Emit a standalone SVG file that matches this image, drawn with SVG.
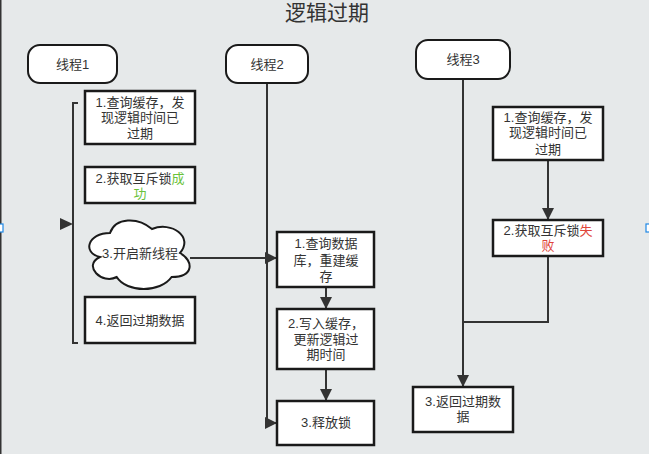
<svg xmlns="http://www.w3.org/2000/svg" width="649" height="454" viewBox="0 0 649 454">
<defs>
<style>
text{font-family:"Liberation Sans","Noto Sans CJK SC",sans-serif;font-size:13px;fill:#333;text-anchor:middle}
.box{fill:#fff;stroke:#1a1a1a;stroke-width:2.5}
.term{fill:#fff;stroke:#1a1a1a;stroke-width:2}
.ln{fill:none;stroke:#333;stroke-width:2}
.g{fill:#6ac23a}
.r{fill:#e0453a}
</style>
<marker id="ahb" viewBox="0 0 10 10" refX="10" refY="5" markerWidth="12" markerHeight="12" markerUnits="userSpaceOnUse" orient="auto">
<path d="M0,0 L10,5 L0,10 z" fill="#333"/>
</marker>
</defs>
<rect x="0" y="0" width="649" height="454" fill="#e6e9ea"/>
<line x1="0.75" y1="0" x2="0.75" y2="454" stroke="#333" stroke-width="1.5"/>
<rect x="-2" y="224" width="5" height="8" fill="#fff" stroke="#1e88e5" stroke-width="1.2"/>
<rect x="646" y="224" width="5" height="8" fill="#fff" stroke="#1e88e5" stroke-width="1.2"/>
<text x="327" y="20" style="font-size:21px">逻辑过期</text>

<g id="connectors">
<path class="ln" d="M78,103 H73 V343 H78"/>
<path d="M60,218 L73,224 L60,230 z" fill="#333"/>
<path class="ln" d="M267,83 V423 H277" marker-end="url(#ahb)"/>
<path class="ln" d="M190,258 H277" marker-end="url(#ahb)"/>
<path class="ln" d="M326,287 V309" marker-end="url(#ahb)"/>
<path class="ln" d="M326,369 V401" marker-end="url(#ahb)"/>
<path class="ln" d="M463,79 V387" marker-end="url(#ahb)"/>
<path class="ln" d="M548,160 V220" marker-end="url(#ahb)"/>
<path class="ln" d="M548,256 V322 H463"/>
</g>

<g id="thread1">
<rect class="term" x="28" y="45" width="89" height="38" rx="12"/>
<text x="72.5" y="69">线程1</text>
</g>
<g id="thread2">
<rect class="term" x="226" y="45" width="82" height="38" rx="12"/>
<text x="267" y="69">线程2</text>
</g>
<g id="thread3">
<rect class="term" x="416" y="40" width="94" height="39" rx="12"/>
<text x="463" y="64">线程3</text>
</g>

<g id="t1-step1">
<rect class="box" x="85" y="91" width="110" height="53"/>
<text x="140" y="107">1.查询缓存，发</text>
<text x="140" y="122">现逻辑时间已</text>
<text x="140" y="138">过期</text>
</g>
<g id="t1-step2">
<rect class="box" x="85" y="167" width="110" height="36"/>
<text x="140" y="183">2.获取互斥锁<tspan class="g">成</tspan></text>
<text x="140" y="198" class="g">功</text>
</g>
<g id="t1-step3">
<path class="term" d="M110,233 C87.6,233 82,253 99.9,257 C82,265.8 102.2,285 116.7,277 C126.8,293 160.4,293 171.6,277 C194,277 194,261 180,253 C194,237 171.6,221 152,229 C138,217 115.6,217 110,233 Z"/>
<text x="140" y="258">3.开启新线程</text>
</g>
<g id="t1-step4">
<rect class="box" x="85" y="297" width="110" height="46"/>
<text x="140" y="325">4.返回过期数据</text>
</g>

<g id="t2-step1">
<rect class="box" x="277" y="232" width="97" height="55"/>
<text x="326" y="248">1.查询数据</text>
<text x="326" y="265">库，重建缓</text>
<text x="326" y="281">存</text>
</g>
<g id="t2-step2">
<rect class="box" x="277" y="309" width="97" height="60"/>
<text x="326" y="328">2.写入缓存，</text>
<text x="326" y="344">更新逻辑过</text>
<text x="326" y="359">期时间</text>
</g>
<g id="t2-step3">
<rect class="box" x="277" y="401" width="97" height="44"/>
<text x="326" y="427">3.释放锁</text>
</g>

<g id="t3-step1">
<rect class="box" x="493" y="107" width="110" height="53"/>
<text x="548" y="122">1.查询缓存，发</text>
<text x="548" y="137">现逻辑时间已</text>
<text x="548" y="154">过期</text>
</g>
<g id="t3-step2">
<rect class="box" x="493" y="220" width="110" height="36"/>
<text x="548" y="235">2.获取互斥锁<tspan class="r">失</tspan></text>
<text x="548" y="250" class="r">败</text>
</g>
<g id="t3-step3">
<rect class="box" x="413" y="387" width="100" height="45"/>
<text x="463" y="406">3.返回过期数</text>
<text x="463" y="421">据</text>
</g>
</svg>
